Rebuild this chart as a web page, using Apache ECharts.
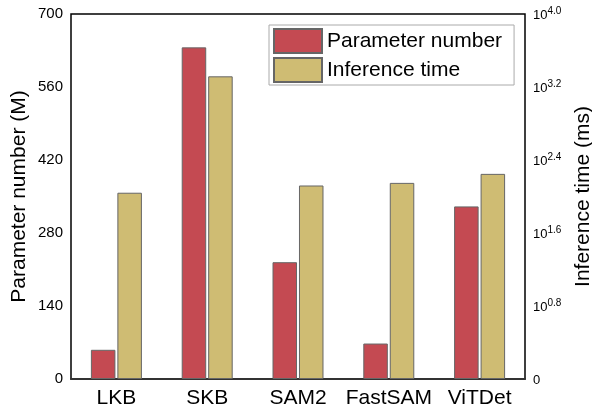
<!DOCTYPE html>
<html>
<head>
<meta charset="utf-8">
<script src="https://cdn.jsdelivr.net/npm/echarts@6/dist/echarts.min.js"></script>
<style>html,body{margin:0;padding:0;background:#fff}#c{width:592px;height:408px}</style>
</head>
<body>
<div id="c"></div>
<script>
var categories = ['LKB', 'SKB', 'SAM2', 'FastSAM', 'ViTDet'];
var paramNumber = [56, 636, 224, 68, 331];           // M
var inferenceTime = [110, 2075, 132, 141, 177];      // ms (log axis)
var leftTicks = [0, 140, 280, 420, 560, 700];
var rightExpTicks = [0, 0.8, 1.6, 2.4, 3.2, 4.0];

var FONT = 'Liberation Sans, Arial, sans-serif';
var chart = echarts.init(document.getElementById('c'), null, {renderer: 'canvas'});
chart.setOption({
  animation: false,
  backgroundColor: '#fff',
  grid: {left: 71, right: 67, top: 14, bottom: 29, show: true, borderColor: '#000', borderWidth: 1.5,
         backgroundColor: 'transparent', containLabel: false, outerBoundsMode: 'none'},
  legend: {
    orient: 'vertical', left: 269, top: 25,
    icon: 'rect',
    itemWidth: 48, itemHeight: 24, itemGap: 3,
    padding: [3, 12, 2, 4],
    borderColor: '#aaa', borderWidth: 1,
    textStyle: {fontFamily: FONT, fontSize: 21, color: '#000', lineHeight: 24},
    data: ['Parameter number', 'Inference time']
  },
  xAxis: {
    type: 'category', data: categories,
    axisLine: {show: true, lineStyle: {color: '#333', width: 2}},
    axisTick: {show: false},
    axisLabel: {fontFamily: FONT, fontSize: 21, color: '#000', margin: 9, interval: 0}
  },
  yAxis: [{
    type: 'value', min: leftTicks[0], max: leftTicks[leftTicks.length - 1], interval: 140,
    name: 'Parameter number (M)', nameLocation: 'middle', nameGap: 41, nameMoveOverlap: false,
    nameTextStyle: {fontFamily: FONT, fontSize: 21, color: '#000'},
    axisLine: {show: false}, axisTick: {show: false}, splitLine: {show: false},
    axisLabel: {fontFamily: FONT, fontSize: 15, color: '#000', margin: 8}
  }, {
    type: 'value', min: rightExpTicks[0], max: rightExpTicks[rightExpTicks.length - 1], interval: 0.8,
    position: 'right',
    name: 'Inference time (ms)', nameLocation: 'middle', nameGap: 48, nameMoveOverlap: false,
    nameTextStyle: {fontFamily: FONT, fontSize: 21, color: '#000'},
    axisLine: {show: false}, axisTick: {show: false}, splitLine: {show: false},
    axisLabel: {
      margin: 8,
      formatter: function (v) {
        if (Math.abs(v) < 1e-9) return '{b|0}';
        return '{b|10}{s|' + v.toFixed(1) + '}';
      },
      rich: {
        b: {fontFamily: FONT, fontSize: 13, color: '#000', verticalAlign: 'bottom', lineHeight: 15},
        s: {fontFamily: FONT, fontSize: 10, color: '#000', verticalAlign: 'top', padding: [0, 0, 8, 0], lineHeight: 15}
      }
    }
  }],
  series: [{
    name: 'Parameter number', type: 'bar', yAxisIndex: 0,
    data: paramNumber,
    barWidth: '27%', barGap: '8%',
    itemStyle: {color: '#C44A52', borderColor: '#666', borderWidth: 1}
  }, {
    name: 'Inference time', type: 'bar', yAxisIndex: 1,
    data: inferenceTime.map(function (t) { return Math.log10(t); }),
    barWidth: '27%', barGap: '8%',
    itemStyle: {color: '#CFBC73', borderColor: '#666', borderWidth: 1}
  }]
});
</script>
</body>
</html>
